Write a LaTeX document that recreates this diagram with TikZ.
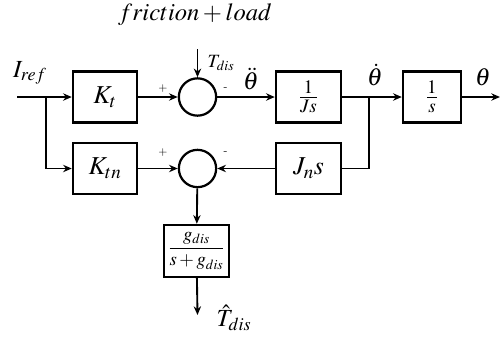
\documentclass[tikz,border=0pt]{standalone}
\usepackage{amsmath}
\usepackage{mathptmx}
\usepackage{tikz}
\usetikzlibrary{arrows.meta,positioning}
\tikzset{
  block/.style={draw=black,line width=2.1pt,minimum width=1.92cm,minimum height=1.53cm,inner sep=0pt,font=\fontsize{22}{24}\selectfont},
  sumnode/.style={circle,draw=black,line width=1.9pt,minimum size=1.12cm,inner sep=0pt},
  flow/.style={-{Stealth[length=2.6mm,width=2.2mm]},line width=1.6pt},
  wire/.style={line width=1.6pt},
  sign/.style={font=\normalsize,inner sep=1pt},
  lab/.style={font=\fontsize{21}{24}\selectfont,inner sep=0.5pt},
}

\begin{document}
\begin{tikzpicture}[x=.03cm,y=-.03cm]
      \useasboundingbox (0,0) rectangle (501,337);
      % blocks
      \node[block] (kt) at (105,97) {$K_t$};
      \node[block] (ktn) at (105,168.5) {$K_{tn}$};
      \node[block,minimum width=1.95cm] (js) at (308.5,97) {$\frac{1}{Js}$};
      \node[block,minimum width=1.74cm] (st) at (432,97) {$\frac{1}{s}$};
      \node[block,minimum width=1.95cm] (jns) at (308.5,168.5) {$J_n s$};
      \node[block,minimum width=1.95cm,minimum height=1.56cm,font=\fontsize{16}{18}\selectfont] (gd) at (196.5,251) {$\dfrac{g_{dis}}{s+g_{dis}}$};
      \node[sumnode] (s1) at (197.5,97) {};
      \node[sumnode] (s2) at (197.5,168.5) {};
      % free ends
      \coordinate (in) at (17,97);
      \coordinate (br) at (46,97);
      \coordinate (bt) at (369,97);
      \coordinate (out) at (500,97);
      \coordinate (td) at (197.5,49);
      \coordinate (tdh) at (197.5,315);
      % connectors
      \draw[flow] (in)--(kt);
      \draw[flow] (br)|-(ktn);
      \draw[flow] (kt)--(s1);
      \draw[flow] (td)--(s1);
      \draw[flow] (s1)--(js);
      \draw[flow] (js)--(st);
      \draw[flow] (st)--(out);
      \draw[wire] (bt)|-(jns);
      \draw[flow] (ktn)--(s2);
      \draw[flow] (jns)--(s2);
      \draw[flow] (s2)--(gd);
      \draw[flow] (gd)--(tdh);
      % signs
      \foreach \yy in {89,153}{
        \node[sign] (p\yy) at (163,\yy) {+};
        \node[sign] (m\yy) at (225.5,\yy) {-};
      }
      % labels
      \node[lab] (lfl) at (195,15) {$friction+load$};
      \node[lab] (liref) at (30,73) {$I_{ref}$};
      \node[font=\fontsize{16}{18}\selectfont,inner sep=0.5pt] (ltd) at (221,63) {$T_{dis}$};
      \node[lab] (ldd) at (251,79) {$\ddot{\theta}$};
      \node[lab] (ld) at (375,75) {$\dot{\theta}$};
      \node[lab] (lth) at (483,77) {$\theta$};
      \node[lab] (lhat) at (234,318) {$\hat{T}_{dis}$};
    \end{tikzpicture}
\end{document}
